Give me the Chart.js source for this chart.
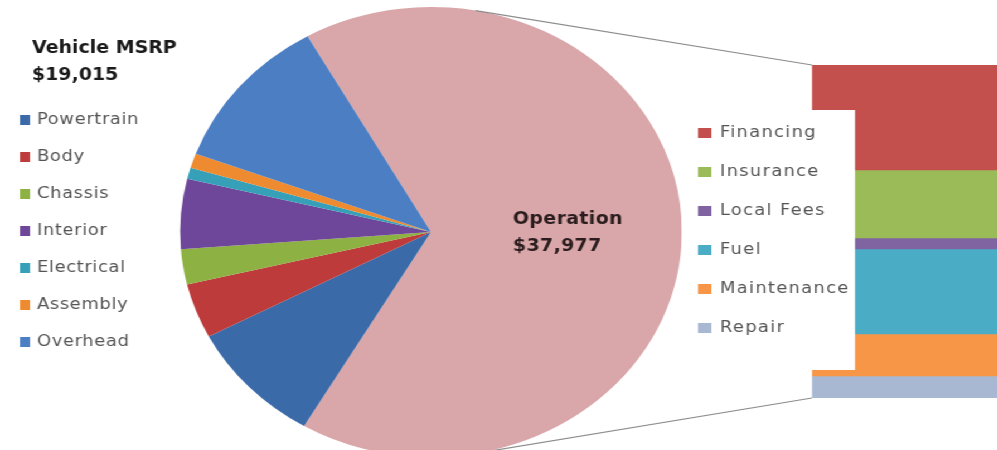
<!DOCTYPE html>
<html>
<head>
<meta charset="utf-8">
<script src="https://cdn.jsdelivr.net/npm/chart.js@4.4.1/dist/chart.umd.min.js"></script>
<style>
html, body { margin: 0; padding: 0; background: #fff; overflow: hidden; }
/* the original picture is stretched sideways, so the whole stage is too */
#stage { position: absolute; left: 0; top: 0; width: 894px; height: 450px; overflow: hidden;
         transform: scaleX(1.115); transform-origin: 0 0; }
#stage canvas { position: absolute; left: 0; top: 0; }
</style>
</head>
<body>
<div id="stage">
  <canvas id="pieChart" width="894" height="470"></canvas>
  <canvas id="barChart" width="894" height="450"></canvas>
</div>
<script>
var SX = 1.115;

var vehicleLabels = ['Powertrain', 'Body', 'Chassis', 'Interior', 'Electrical', 'Assembly', 'Overhead'];
var vehicleValues = [5060, 2240, 1440, 2860, 460, 600, 6355];
var vehicleColors = ['#3b6aa9', '#bd3c3b', '#8db142', '#6f479a', '#37a0b9', '#ee8b30', '#4b7ec2'];

var opLabels = ['Financing', 'Insurance', 'Local Fees', 'Fuel', 'Maintenance', 'Repair'];
var opValues = [11976, 7755, 1254, 9693, 4790, 2509];
var opColors = ['#c4504d', '#9bbb59', '#8064a2', '#4bacc6', '#f79646', '#a9b8d2'];
var opColor = '#d9a6a9';

function sum(arr) { return arr.reduce(function (a, b) { return a + b; }, 0); }
var vehicleTotal = sum(vehicleValues);
var opTotal = sum(opValues);

function money(v) { return '$' + v.toLocaleString('en-US'); }
// reference px -> stage px (before the stretch)
function ux(x) { return x / SX; }

var pieText = {
    id: 'pieText',
    afterDraw: function (chart) {
        var ctx = chart.ctx;
        ctx.save();
        ctx.textBaseline = 'middle';
        ctx.textAlign = 'left';

        ctx.fillStyle = '#1a1a1a';
        ctx.font = 'bold 17px "DejaVu Sans"';
        ctx.fillText('Vehicle MSRP', ux(32), 49);
        ctx.fillText(money(vehicleTotal), ux(32), 76);

        ctx.font = '16px "DejaVu Sans"';
        ctx.letterSpacing = '0.6px';
        vehicleLabels.forEach(function (lab, i) {
            var y = 120 + i * 37;
            ctx.fillStyle = vehicleColors[i];
            ctx.fillRect(ux(20), y - 5, 9, 10);
            ctx.fillStyle = '#555';
            ctx.fillText(lab, ux(37), y);
        });

        // label inside the big slice
        ctx.letterSpacing = '0.3px';
        ctx.font = 'bold 17px "DejaVu Sans"';
        ctx.fillStyle = '#2b1d1e';
        ctx.fillText('Operation', ux(513), 220);
        ctx.fillText(money(opTotal), ux(513), 247);
        ctx.restore();
    }
};

var pieCx = ux(431), pieCy = 232, pieR = 225;

var pie = new Chart(document.getElementById('pieChart'), {
    type: 'pie',
    data: {
        labels: ['Operation'].concat(vehicleLabels),
        datasets: [{
            data: [opTotal].concat(vehicleValues),
            backgroundColor: [opColor].concat(vehicleColors),
            borderWidth: 0
        }]
    },
    options: {
        responsive: false,
        animation: false,
        rotation: -29.5,
        layout: { padding: { left: pieCx - pieR, right: 894 - (pieCx + pieR), top: pieCy - pieR, bottom: 470 - (pieCy + pieR) } },
        plugins: { legend: { display: false }, tooltip: { enabled: false } }
    },
    plugins: [pieText]
});

var barExtras = {
    id: 'barExtras',
    beforeDatasetsDraw: function (chart) {
        // connector lines: tangent from the pie to the bar corners
        var ctx = chart.ctx;
        var arc = pie.getDatasetMeta(0).data[0];
        var r = arc.outerRadius;
        var yScale = chart.scales.y;
        var left = chart.chartArea.left;
        var corners = [[left, yScale.getPixelForValue(0), -1], [left, yScale.getPixelForValue(opTotal), 1]];
        ctx.save();
        ctx.strokeStyle = '#8c8c8c';
        ctx.lineWidth = 1.2;
        corners.forEach(function (c) {
            var dx = c[0] - arc.x, dy = c[1] - arc.y;
            var d = Math.hypot(dx, dy);
            var a = Math.atan2(dy, dx) + c[2] * Math.acos(r / d);
            ctx.beginPath();
            ctx.moveTo(arc.x + r * Math.cos(a), arc.y + r * Math.sin(a));
            ctx.lineTo(c[0], c[1]);
            ctx.stroke();
        });
        ctx.restore();
    },
    afterDatasetsDraw: function (chart) {
        var ctx = chart.ctx;
        ctx.save();
        ctx.fillStyle = '#fff';
        ctx.fillRect(ux(682), 110, ux(855) - ux(682), 260);
        ctx.font = '16px "DejaVu Sans"';
        ctx.letterSpacing = '1.2px';
        ctx.textBaseline = 'middle';
        ctx.textAlign = 'left';
        opLabels.forEach(function (lab, i) {
            var y = 133 + i * 39;
            ctx.fillStyle = opColors[i];
            ctx.fillRect(ux(698), y - 5, 12, 10);
            ctx.fillStyle = '#555';
            ctx.fillText(lab, ux(720), y);
        });
        ctx.restore();
    }
};

var bar = new Chart(document.getElementById('barChart'), {
    type: 'bar',
    data: {
        labels: ['Operation'],
        datasets: opLabels.map(function (lab, i) {
            return {
                label: lab,
                data: [opValues[i]],
                backgroundColor: opColors[i],
                borderWidth: 0,
                barPercentage: 1,
                categoryPercentage: 1
            };
        })
    },
    options: {
        responsive: false,
        animation: false,
        layout: { padding: { left: ux(812), top: 65, right: 0, bottom: 52 } },
        scales: {
            x: { stacked: true, display: false },
            y: { stacked: true, display: false, reverse: true, min: 0, max: opTotal }
        },
        plugins: { legend: { display: false }, tooltip: { enabled: false } }
    },
    plugins: [barExtras]
});
</script>
</body>
</html>
